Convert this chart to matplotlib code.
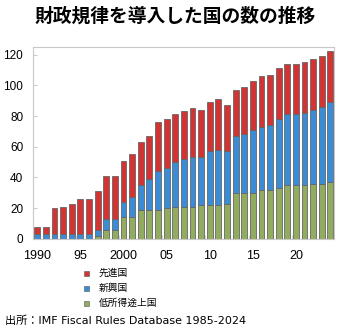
import numpy as np
import matplotlib
matplotlib.use('Agg')
import matplotlib.pyplot as plt
from matplotlib.patches import Rectangle

years = np.arange(1990, 2025)
# number of countries by group (stacked: low income at bottom, then emerging, then advanced)
low_income = [0, 0, 0, 0, 0, 0, 0, 2, 6, 6, 14, 14, 19, 19, 19, 20, 21, 21, 21, 22,
              22, 22, 23, 30, 30, 30, 32, 32, 33, 35, 35, 35, 36, 36, 37]
emerging = [3, 3, 3, 3, 3, 3, 3, 4, 7, 7, 10, 13, 16, 20, 25, 26, 29, 31, 32, 31,
            35, 36, 34, 37, 38, 41, 41, 42, 45, 46, 46, 47, 48, 50, 52]
advanced = [5, 5, 17, 18, 20, 23, 23, 25, 28, 28, 27, 28, 28, 28, 32, 32, 31, 31, 32, 31,
            32, 33, 30, 30, 31, 32, 33, 33, 33, 33, 33, 33, 33, 33, 33]
series_names = ['先進国', '新興国', '低所得途上国']
colors = ['#d23434', '#3a8cd6', '#91ac5e']
tick_years = [1990, 1995, 2000, 2005, 2010, 2015, 2020]
tick_labels = ['1990', '95', '2000', '05', '10', '15', '20']

jp = ['Noto Sans CJK JP', 'DejaVu Sans']
latin_jp = ['DejaVu Sans', 'Noto Sans CJK JP']
num = ['Liberation Sans', 'DejaVu Sans']

fig = plt.figure(figsize=(3.4, 3.3), dpi=100)
ax = fig.add_axes([0.097, 0.276, 0.885, 0.582])

low = np.array(low_income)
emg = np.array(emerging)
adv = np.array(advanced)
w = 0.68
ec = '#666666'
ax.bar(years, low, w, color=colors[2], edgecolor=ec, linewidth=0.6)
ax.bar(years, emg, w, bottom=low, color=colors[1], edgecolor=ec, linewidth=0.6)
ax.bar(years, adv, w, bottom=low + emg, color=colors[0], edgecolor=ec, linewidth=0.6)

ax.set_xlim(1989.5, 2024.4)
ax.set_ylim(0, 125)
ax.set_yticks(range(0, 121, 20))
ax.set_xticks(tick_years)
ax.set_xticklabels(tick_labels)
ax.set_xticks(np.array(tick_years[1:]) - 0.5, minor=True)
ax.tick_params(axis='x', which='major', length=0, pad=8, labelsize=9)
ax.tick_params(axis='x', which='minor', direction='in', length=3, color='#cccccc')
ax.tick_params(axis='y', direction='in', length=3, color='#cccccc', labelsize=8.5, pad=7)
for lab in ax.get_xticklabels() + ax.get_yticklabels():
    lab.set_family(num)
for s in ax.spines.values():
    s.set_color('#c8c8c8')
    s.set_linewidth(0.8)

fig.text(0.515, 0.952, '財政規律を導入した国の数の推移', ha='center', va='center',
         fontsize=13.5, fontweight='bold', family=jp)

# legend
for i, (name, c) in enumerate(zip(series_names, colors)):
    y = 1 - (273 + i * 15) / 330
    fig.patches.append(Rectangle((84 / 340, y - 2.5 / 330), 5 / 340, 5 / 330,
                                 transform=fig.transFigure, facecolor=c,
                                 edgecolor='#555555', linewidth=0.4))
    fig.text(99 / 340, y, name, ha='left', va='center', fontsize=7, family=jp)

fig.text(5 / 340, 1 - 321 / 330, '出所：IMF Fiscal Rules Database 1985-2024',
         ha='left', va='center', fontsize=8, family=latin_jp)

fig.savefig('out.png', dpi=100)
